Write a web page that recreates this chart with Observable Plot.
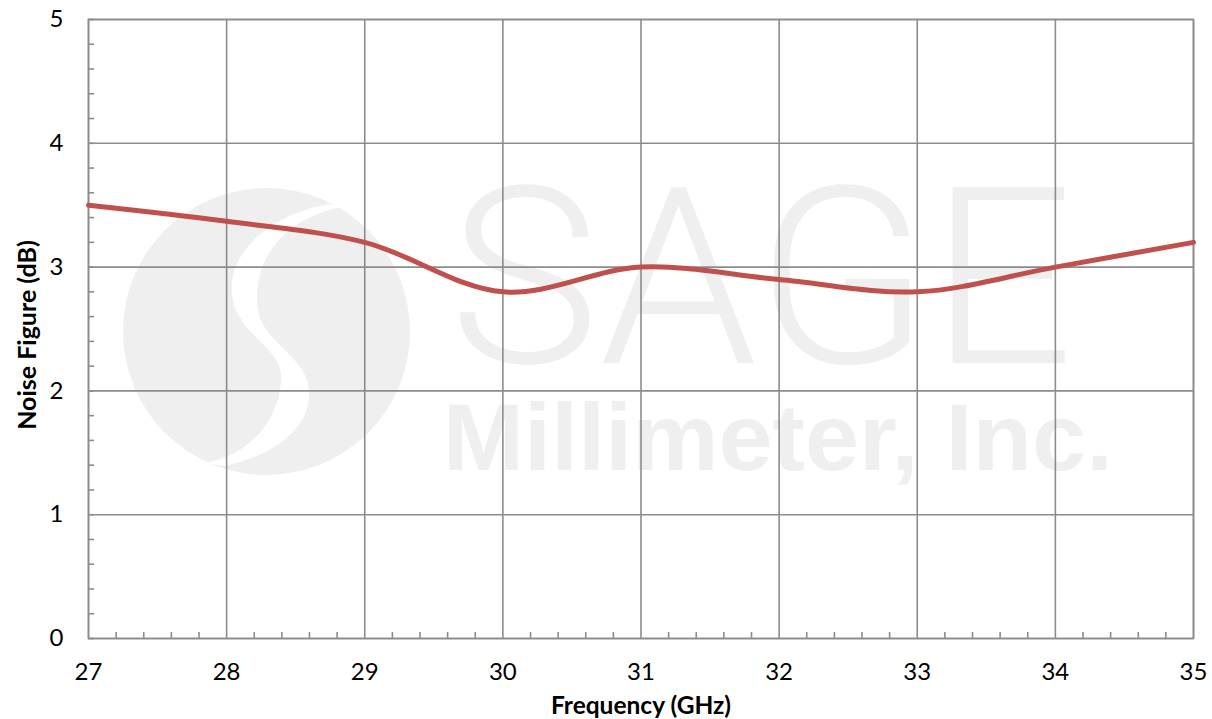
<!DOCTYPE html>
<html>
<head>
<meta charset="utf-8">
<script src="https://cdn.jsdelivr.net/npm/d3@7"></script>
<script src="https://cdn.jsdelivr.net/npm/@observablehq/plot@0.6"></script>
<style>
  html, body { margin: 0; padding: 0; background: #fff; }
  #chart { width: 1212px; height: 719px; }
</style>
</head>
<body>
<div id="chart"></div>
<script>
const frequency = [27, 28, 29, 30, 31, 32, 33, 34, 35];
const noiseFigure = [3.5, 3.37, 3.2, 2.8, 3.0, 2.9, 2.8, 3.0, 3.2];
const xTicks = [27, 28, 29, 30, 31, 32, 33, 34, 35];
const yTicks = [0, 1, 2, 3, 4, 5];
const xMinor = d3.range(27, 35.001, 0.2).map(v => +v.toFixed(1)).filter(v => !Number.isInteger(v));
const yMinor = d3.range(0, 5.001, 0.2).map(v => +v.toFixed(1));
const xLabel = "Frequency (GHz)";
const yLabel = "Noise Figure (dB)";
const watermarkTop = "SAGE";
const watermarkBottom = "Millimeter, Inc.";

const data = frequency.map((f, i) => ({f, nf: noiseFigure[i]}));
const gridColor = "#8c8c8c";
const font = "Lato, 'Open Sans', sans-serif";

const chart = Plot.plot({
  width: 1212,
  height: 719,
  marginLeft: 88,
  marginRight: 19,
  marginTop: 19,
  marginBottom: 81,
  style: {fontFamily: font, fontSize: "24px", color: "#000", background: "#fff"},
  x: {domain: [27, 35], label: null},
  y: {domain: [0, 5], label: null},
  marks: [
    Plot.gridX(xTicks, {stroke: gridColor, strokeOpacity: 1, strokeWidth: 1.6}),
    Plot.gridY(yTicks, {stroke: gridColor, strokeOpacity: 1, strokeWidth: 1.6}),
    Plot.frame({stroke: gridColor, strokeWidth: 1.6}),
    Plot.axisX(xMinor, {tickSize: -6, text: null, stroke: gridColor, strokeWidth: 1.6}),
    Plot.axisY(yMinor, {tickSize: -6, text: null, stroke: gridColor, strokeWidth: 1.6}),
    Plot.axisX(xTicks, {tickSize: 0, tickPadding: 24, fontSize: 24, fill: "#000", tickFormat: d => d, label: null}),
    Plot.axisY(yTicks, {tickSize: 0, tickPadding: 25, fontSize: 24, fill: "#000", tickFormat: d => d, label: null}),
    Plot.line(data, {x: "f", y: "nf", curve: "catmull-rom", stroke: "#c0504d", strokeWidth: 5}),
    Plot.text([xLabel], {frameAnchor: "bottom", lineAnchor: "middle", dy: 68, fontSize: 24.5, fontWeight: "bold", fill: "#000", text: d => d}),
    Plot.text([yLabel], {frameAnchor: "left", textAnchor: "middle", lineAnchor: "middle", dx: -61, dy: 6, rotate: -90, fontSize: 25, fontWeight: "bold", fill: "#000", text: d => d})
  ]
});

document.getElementById("chart").appendChild(chart);

// faint watermark behind grid
const svg = d3.select(chart);
const wm = svg.insert("g", ":first-child").attr("fill", "#efefef").attr("text-anchor", "start").attr("aria-label", "watermark");
wm.append("circle").attr("cx", 266.5).attr("cy", 331.5).attr("r", 143.5);
wm.append("path").attr("fill", "#fff")
  .attr("d", "M330,204 C268,214 218,258 235,308 C248,340 282,350 281,378 C280,420 250,455 205,463 L224,466 C278,455 312,425 309,390 C306,358 270,345 260,318 C250,285 262,225 340,207 Z");
wm.append("text").attr("x", 449).attr("y", 363).attr("font-family", "Roboto, sans-serif").attr("font-weight", 300)
  .attr("font-size", 246).attr("textLength", 625).attr("lengthAdjust", "spacingAndGlyphs").text(watermarkTop);
wm.append("text").attr("x", 443).attr("y", 470).attr("font-family", "'Liberation Sans', Arial, sans-serif").attr("font-weight", 700)
  .attr("font-size", 95).attr("textLength", 670).attr("lengthAdjust", "spacingAndGlyphs").text(watermarkBottom);
</script>
</body>
</html>
